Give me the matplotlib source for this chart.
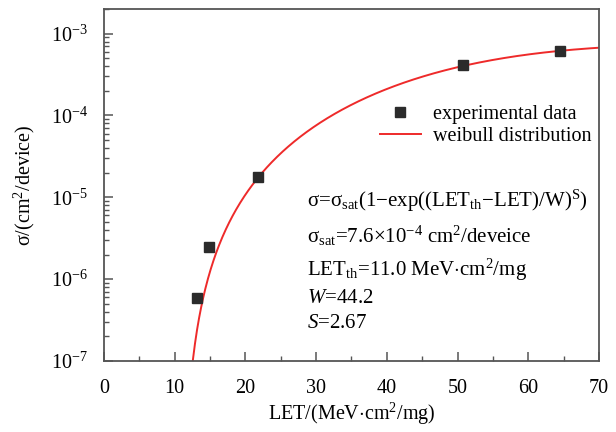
import matplotlib
matplotlib.use("Agg")
import matplotlib.pyplot as plt
import numpy as np
from matplotlib.ticker import LogLocator, MultipleLocator

plt.rcParams['font.family'] = ['Liberation Serif', 'DejaVu Serif']
plt.rcParams['mathtext.fontset'] = 'custom'
plt.rcParams['mathtext.rm'] = 'Liberation Serif'
plt.rcParams['mathtext.it'] = 'Liberation Serif:italic'
plt.rcParams['font.size'] = 14.5

# measured points
let_exp = [13.1, 14.9, 21.8, 50.8, 64.5]
sigma_exp = [5.9e-7, 2.45e-6, 1.75e-5, 4.1e-4, 6.2e-4]

# weibull fit parameters (as printed on the chart)
sigma_sat = 7.6e-4
let_th = 11.0
W = 44.2
S = 2.67

let_fit = np.linspace(12.0, 70, 600)
sigma_fit = sigma_sat * (1 - np.exp(-((let_fit - let_th) / W) ** S))

fig = plt.figure(figsize=(6.16, 4.32), dpi=100)
ax = fig.add_axes([0.1688, 0.1644, 0.8036, 0.8148])

ax.plot(let_fit, sigma_fit, color='#ee2a2a', lw=1.4, label='weibull distribution', zorder=2)
ax.plot(let_exp, sigma_exp, 's', color='#2b2b2b', ms=7, ls='none', label='experimental data', zorder=3)

ax.set_yscale('log')
ax.set_xlim(0, 70)
ax.set_ylim(1e-7, 2e-3)
ax.xaxis.set_major_locator(MultipleLocator(10))
ax.xaxis.set_minor_locator(MultipleLocator(5))
ax.yaxis.set_major_locator(LogLocator(base=10, numticks=10))
ax.yaxis.set_minor_locator(LogLocator(base=10, subs=np.arange(2, 10), numticks=10))
ax.tick_params(which='both', direction='in', top=False, right=False, color='#555555')
ax.tick_params(which='major', length=6.5, width=1.1)
ax.tick_params(which='minor', length=3.6, width=1.0)
ax.tick_params(axis='x', pad=13)
ax.tick_params(axis='y', pad=11.5)
for sp in ax.spines.values():
    sp.set_color('#555555')
    sp.set_linewidth(1.3)

ax.set_xlabel('LET/(MeV$\\cdot$cm$^2$/mg)', labelpad=2)
ax.set_ylabel('σ/(cm$^2$/device)', labelpad=10)

h, l = ax.get_legend_handles_labels()
ax.legend(h[::-1], l[::-1], loc='upper left', bbox_to_anchor=(0.542, 0.75), frameon=False,
          handlelength=2.0, handletextpad=0.6, labelspacing=0.15, borderaxespad=0)

tx = 0.41
fs = 15
ax.text(tx, 0.455, 'σ=σ$_{\\rm sat}$(1−exp((LET$_{\\rm th}$−LET)/W)$^{\\rm S}$)', transform=ax.transAxes, va='center', fontsize=fs)
ax.text(tx, 0.355, 'σ$_{\\rm sat}$=7.6×10$^{-4}$ cm$^2$/deveice', transform=ax.transAxes, va='center', fontsize=fs)
ax.text(tx, 0.26, 'LET$_{\\rm th}$=11.0 MeV$\\cdot$cm$^2$/mg', transform=ax.transAxes, va='center', fontsize=fs)
ax.text(tx, 0.178, '$W$=44.2', transform=ax.transAxes, va='center', fontsize=fs)
ax.text(tx, 0.107, '$S$=2.67', transform=ax.transAxes, va='center', fontsize=fs)

fig.savefig('out.png', dpi=100)
